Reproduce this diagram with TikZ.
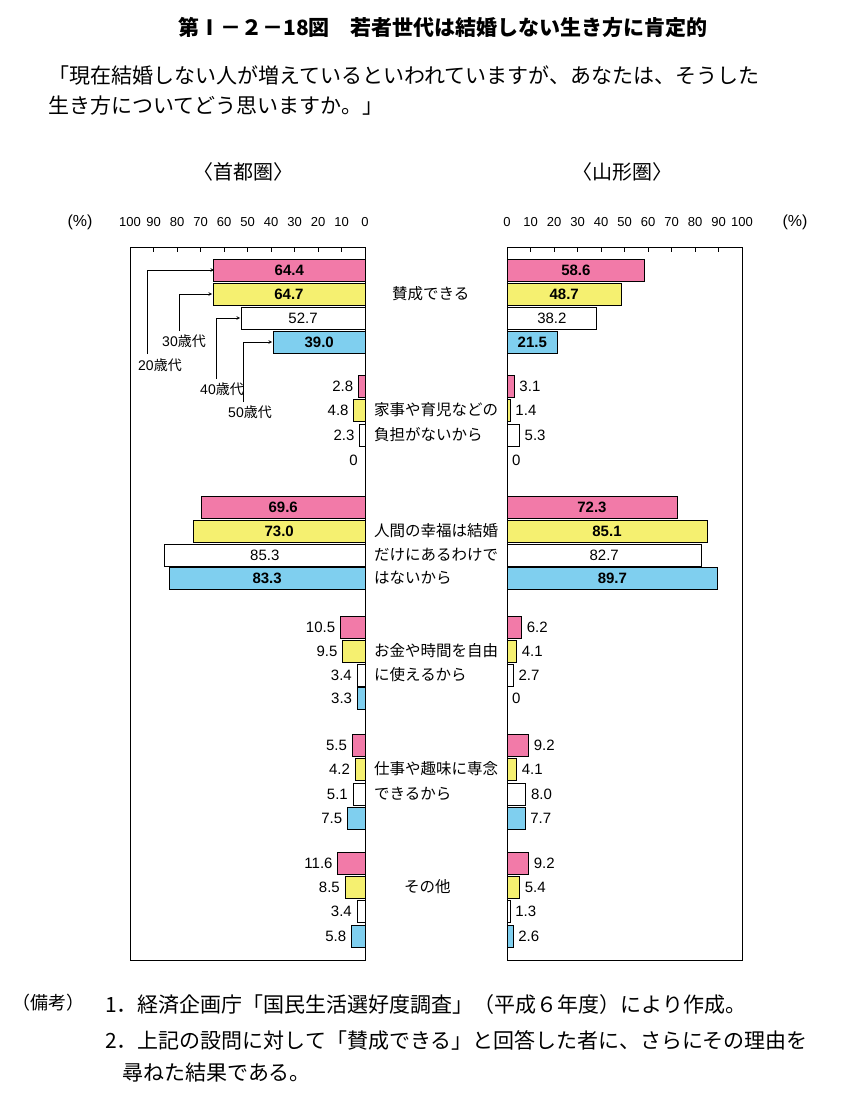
\documentclass[tikz,border=0pt]{standalone}
\usepackage{fontspec}
\setmainfont{Noto Sans CJK JP}
\newfontfamily\numf{Liberation Sans}
\definecolor{pk}{HTML}{F27AA8}
\definecolor{yl}{HTML}{F5F070}
\definecolor{cy}{HTML}{7FCFEF}
\begin{document}
\begin{tikzpicture}[x=1pt,y=-1pt,
  barl/.style={draw,line width=0.8pt},
  val/.style={font=\numf\fontsize{15}{15}\selectfont,inner sep=1pt},
  bval/.style={font=\numf\bfseries\fontsize{15}{15}\selectfont,inner sep=1pt},
  cat/.style={font=\fontsize{15.5}{17}\selectfont,anchor=west,inner sep=0pt},
  txt/.style={font=\fontsize{21}{24}\selectfont,anchor=west,inner sep=0pt},
  tick/.style={font=\numf\fontsize{13}{13}\selectfont,inner sep=0pt},
  age/.style={font=\fontsize{14}{14}\selectfont,inner sep=1pt},
  arr/.style={->,>=stealth,line width=0.6pt}]
\useasboundingbox (0,0) rectangle (857,1115);
\fill[white] (0,0) rectangle (857,1115);
\node[font=\bfseries\fontsize{21}{21}\selectfont] (title) at (443,28) {第Ⅰ－２－18図\quad 若者世代は結婚しない生き方に肯定的};
\node[txt] (s1) at (48,76) {「現在結婚しない人が増えているといわれていますが、あなたは、そうした};
\node[txt] (s2) at (48,106) {生き方についてどう思いますか。」};
\node[font=\fontsize{20}{20}\selectfont] (h1) at (243,172) {〈首都圏〉};
\node[font=\fontsize{20}{20}\selectfont] (h2) at (622,172) {〈山形圏〉};
\node[font=\numf\fontsize{16}{16}\selectfont] (p1) at (80,222) {(\%)};
\node[font=\numf\fontsize{16}{16}\selectfont] (p2) at (795,222) {(\%)};
\draw[line width=0.8pt] (130,247) rectangle (365,960);
\draw[line width=0.8pt] (507,247) rectangle (742,960);
\foreach \i in {0,...,10}{
  \pgfmathsetmacro\xl{365-23.5*\i}
  \pgfmathsetmacro\xr{507+23.5*\i}
  \pgfmathtruncatemacro\v{10*\i}
  \draw (\xl,247) -- (\xl,252);
  \draw (\xr,247) -- (\xr,252);
  \node[tick] (tl\i) at (\xl,222) {\v};
  \node[tick] (tr\i) at (\xr,222) {\v};
}
\newcommand\LB[4]{%
  \pgfmathsetmacro\xx{365-2.35*#2}
  \draw[barl,fill=#3] (\xx,#1-11) rectangle (365,#1+11);
  \if#4i\node[bval] at ({(\xx+365)/2},#1) {#2};\fi
  \if#4w\node[val] at ({(\xx+365)/2},#1) {#2};\fi
  \if#4o\node[val,anchor=east] at (\xx-4,#1) {#2};\fi}
\newcommand\RB[4]{%
  \pgfmathsetmacro\xx{507+2.35*#2}
  \draw[barl,fill=#3] (507,#1-11) rectangle (\xx,#1+11);
  \if#4i\node[bval] at ({(\xx+507)/2},#1) {#2};\fi
  \if#4w\node[val] at ({(\xx+507)/2},#1) {#2};\fi
  \if#4o\node[val,anchor=west] at (\xx+4,#1) {#2};\fi}
\newcommand\LZ[1]{\node[val,anchor=east] at (359,#1) {0};}
\newcommand\RZ[1]{\node[val,anchor=west] at (511,#1) {0};}
\LB{270}{64.4}{pk}{i}\LB{294}{64.7}{yl}{i}\LB{318}{52.7}{white}{w}\LB{342}{39.0}{cy}{i}
\RB{270}{58.6}{pk}{i}\RB{294}{48.7}{yl}{i}\RB{318}{38.2}{white}{w}\RB{342}{21.5}{cy}{i}
\LB{386}{2.8}{pk}{o}\LB{410}{4.8}{yl}{o}\LB{435}{2.3}{white}{o}\LZ{460}
\RB{386}{3.1}{pk}{o}\RB{410}{1.4}{yl}{o}\RB{435}{5.3}{white}{o}\RZ{460}
\LB{507}{69.6}{pk}{i}\LB{531}{73.0}{yl}{i}\LB{555}{85.3}{white}{w}\LB{578}{83.3}{cy}{i}
\RB{507}{72.3}{pk}{i}\RB{531}{85.1}{yl}{i}\RB{555}{82.7}{white}{w}\RB{578}{89.7}{cy}{i}
\LB{627}{10.5}{pk}{o}\LB{651}{9.5}{yl}{o}\LB{675}{3.4}{white}{o}\LB{698}{3.3}{cy}{o}
\RB{627}{6.2}{pk}{o}\RB{651}{4.1}{yl}{o}\RB{675}{2.7}{white}{o}\RZ{698}
\LB{745}{5.5}{pk}{o}\LB{769}{4.2}{yl}{o}\LB{794}{5.1}{white}{o}\LB{818}{7.5}{cy}{o}
\RB{745}{9.2}{pk}{o}\RB{769}{4.1}{yl}{o}\RB{794}{8.0}{white}{o}\RB{818}{7.7}{cy}{o}
\LB{863}{11.6}{pk}{o}\LB{887}{8.5}{yl}{o}\LB{911}{3.4}{white}{o}\LB{936}{5.8}{cy}{o}
\RB{863}{9.2}{pk}{o}\RB{887}{5.4}{yl}{o}\RB{911}{1.3}{white}{o}\RB{936}{2.6}{cy}{o}
\node[cat] (c1) at (392,294) {賛成できる};
\node[cat] (c2a) at (374,410) {家事や育児などの};
\node[cat] (c2b) at (374,435) {負担がないから};
\node[cat] (c3a) at (374,531) {人間の幸福は結婚};
\node[cat] (c3b) at (374,555) {だけにあるわけで};
\node[cat] (c3c) at (374,578) {はないから};
\node[cat] (c4a) at (374,651) {お金や時間を自由};
\node[cat] (c4b) at (374,675) {に使えるから};
\node[cat] (c5a) at (374,769) {仕事や趣味に専念};
\node[cat] (c5b) at (374,794) {できるから};
\node[cat] (c6) at (404,887) {その他};
\node[age] (a20) at (160,365) {{\numf 20}歳代};
\node[age] (a30) at (184,341) {{\numf 30}歳代};
\node[age] (a40) at (222,389) {{\numf 40}歳代};
\node[age] (a50) at (250,412) {{\numf 50}歳代};
\coordinate (e20) at (214,270);\coordinate (e30) at (212,294);
\coordinate (e40) at (240,318);\coordinate (e50) at (272,342);
\draw[arr] (147,354) -- (147,270) -- (e20);
\draw[arr] (179,331) -- (179,294) -- (e30);
\draw[arr] (216,379) -- (216,318) -- (e40);
\draw[arr] (243,402) -- (243,342) -- (e50);
\node[font=\fontsize{18}{20}\selectfont,anchor=west,inner sep=0pt] (n0) at (12,1003) {（備考）};
\node[txt] (n1) at (105,1005) {1．経済企画庁「国民生活選好度調査」（平成６年度）により作成。};
\node[txt] (n2) at (105,1040) {2．上記の設問に対して「賛成できる」と回答した者に、さらにその理由を};
\node[txt] (n3) at (122,1073) {尋ねた結果である。};
\end{tikzpicture}
\end{document}
